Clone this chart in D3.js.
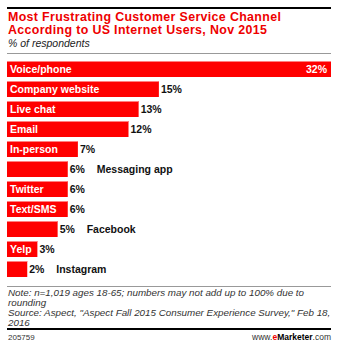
<!DOCTYPE html>
<html>
<head>
<meta charset="utf-8">
<script src="https://cdn.jsdelivr.net/npm/d3@7"></script>
<style>
  body { margin: 0; background: #fff; }
  text { font-family: "Liberation Sans", Arial, sans-serif; }
</style>
</head>
<body>
<div id="chart"></div>
<script>
const categories = ['Voice/phone', 'Company website', 'Live chat', 'Email', 'In-person',
  'Messaging app', 'Twitter', 'Text/SMS', 'Facebook', 'Yelp', 'Instagram']
const values = [32, 15, 13, 12, 7, 6, 6, 6, 5, 3, 2]
// labels that don't fit inside their bar sit to the right of the value
const outside = ['Messaging app', 'Facebook', 'Instagram']

const W = 363, H = 351
const left = 7, right = 331

const svg = d3.select('#chart').append('svg')
  .attr('width', W).attr('height', H)

// header
svg.append('rect').attr('x', left).attr('y', 7).attr('width', right - left).attr('height', 2).attr('fill', '#000')
svg.append('text').attr('x', left + 1).attr('y', 20.5)
  .attr('fill', '#e00').style('font-size', '12.4px').style('font-weight', 'bold').style('letter-spacing', '0.35px')
  .text('Most Frustrating Customer Service Channel')
svg.append('text').attr('x', left + 1).attr('y', 34)
  .attr('fill', '#e00').style('font-size', '12.4px').style('font-weight', 'bold').style('letter-spacing', '0.35px')
  .text('According to US Internet Users, Nov 2015')
svg.append('text').attr('x', left + 1).attr('y', 47)
  .attr('fill', '#222').style('font-size', '10.5px').style('font-style', 'italic')
  .text('% of respondents')
svg.append('rect').attr('x', left).attr('y', 53).attr('width', right - left).attr('height', 1).attr('fill', '#999')

const x = d3.scaleLinear().domain([0, 32]).range([left, right])
const y = d3.scaleBand().domain(categories).range([59, 279]).paddingInner(0.2).paddingOuter(0.1)

const g = svg.append('g')
const row = g.selectAll('g.row').data(categories).join('g')
  .attr('transform', d => `translate(0,${y(d)})`)

row.append('rect')
  .attr('x', x(0))
  .attr('width', (d, i) => x(values[i]) - x(0))
  .attr('height', y.bandwidth())
  .attr('fill', '#f00')

row.append('rect')
  .attr('x', x(0))
  .attr('width', (d, i) => x(values[i]) - x(0))
  .attr('height', 1)
  .attr('fill', '#ff8080')

const mid = y.bandwidth() / 2 + 4

row.filter(d => !outside.includes(d)).append('text')
  .attr('x', x(0) + 3).attr('y', mid)
  .attr('fill', '#fff').style('font-size', '10.5px').style('font-weight', 'bold')
  .text(d => d)

row.append('text')
  .attr('x', (d, i) => i === 0 ? x(values[i]) - 4 : x(values[i]) + 2)
  .attr('y', mid)
  .attr('text-anchor', (d, i) => i === 0 ? 'end' : 'start')
  .attr('fill', (d, i) => i === 0 ? '#fff' : '#111')
  .style('font-size', '10.5px').style('font-weight', 'bold')
  .text((d, i) => values[i] + '%')

row.filter(d => outside.includes(d)).append('text')
  .attr('x', d => x(values[categories.indexOf(d)]) + 29).attr('y', mid)
  .attr('fill', '#111').style('font-size', '10.5px').style('font-weight', 'bold')
  .text(d => d)

// footer
svg.append('rect').attr('x', left).attr('y', 286).attr('width', right - left).attr('height', 1).attr('fill', '#999')
const notes = ['Note: n=1,019 ages 18-65; numbers may not add up to 100% due to',
  'rounding',
  'Source: Aspect, "Aspect Fall 2015 Consumer Experience Survey," Feb 18,',
  '2016']
svg.append('g').selectAll('text').data(notes).join('text')
  .attr('x', left + 1).attr('y', (d, i) => 296 + i * 10)
  .attr('fill', '#333').style('font-size', '9.8px').style('font-style', 'italic')
  .text(d => d)
svg.append('rect').attr('x', left).attr('y', 328).attr('width', right - left).attr('height', 2).attr('fill', '#000')
svg.append('text').attr('x', left + 1).attr('y', 340)
  .attr('fill', '#333').style('font-size', '8px').text('205759')
const brand = svg.append('text').attr('x', right).attr('y', 340).attr('text-anchor', 'end')
  .attr('fill', '#333').style('font-size', '8.5px')
brand.append('tspan').text('www.')
brand.append('tspan').attr('fill', '#e00').style('font-weight', 'bold').text('e')
brand.append('tspan').attr('fill', '#000').style('font-weight', 'bold').text('Marketer')
brand.append('tspan').text('.com')
</script>
</body>
</html>
